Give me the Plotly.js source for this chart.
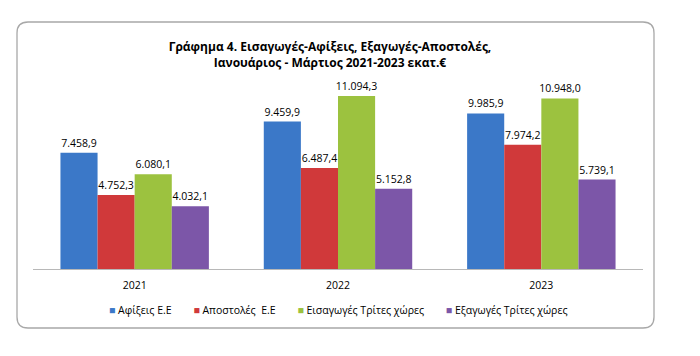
<!DOCTYPE html>
<html><head><meta charset="utf-8">
<script src="https://cdn.plot.ly/plotly-3.0.1.min.js"></script>
<style>html,body{margin:0;padding:0;background:#fff}#chart{width:700px;height:356px}</style>
</head><body><div id="chart"></div>
<script>
const years = ['2021', '2022', '2023'];
const seriesNames = ['Αφίξεις Ε.Ε', 'Αποστολές  Ε.Ε', 'Εισαγωγές Τρίτες χώρες', 'Εξαγωγές Τρίτες χώρες'];
const afixeis = [7458.9, 9459.9, 9985.9];
const apostoles = [4752.3, 6487.4, 7974.2];
const eisagoges = [6080.1, 11094.3, 10948.0];
const exagoges = [4032.1, 5152.8, 5739.1];
const colors = ['#3b78c8', '#d0393a', '#9cc23f', '#7c56a8'];

const values = [afixeis, apostoles, eisagoges, exagoges];
const FONT = 'Open Sans, Liberation Sans, sans-serif';

const traces = values.map((v, i) => ({
  type: 'bar', x: years, y: v, name: seriesNames[i],
  marker: {color: colors[i]},
  texttemplate: '%{y:,.1f}', textposition: 'outside', cliponaxis: false,
  constraintext: 'none',
  textfont: {family: FONT, size: 10.5, color: '#000'},
  hoverinfo: 'none', showlegend: false
}));

// plot area in pixels
const L = 33, R = 643, T = 82, B = 269, W = 700, H = 356;
const px = x => (x - L) / (R - L);
const py = y => (B - y) / (B - T);
function roundRect(x0, y0, x1, y1, r) {
  return `M ${px(x0 + r)} ${py(y0)} L ${px(x1 - r)} ${py(y0)} Q ${px(x1)} ${py(y0)} ${px(x1)} ${py(y0 + r)} ` +
    `L ${px(x1)} ${py(y1 - r)} Q ${px(x1)} ${py(y1)} ${px(x1 - r)} ${py(y1)} ` +
    `L ${px(x0 + r)} ${py(y1)} Q ${px(x0)} ${py(y1)} ${px(x0)} ${py(y1 - r)} ` +
    `L ${px(x0)} ${py(y0 + r)} Q ${px(x0)} ${py(y0)} ${px(x0 + r)} ${py(y0)} Z`;
}

// legend built from the series names and colours
const NB = '\u00a0';
const legendText = seriesNames.map((n, i) =>
  `<span style="color:${colors[i]}">■</span>${NB}${n.replace(/ /g, NB)}`).join(NB.repeat(8));

const layout = {
  width: W, height: H,
  margin: {l: L, r: W - R, t: T, b: H - B},
  paper_bgcolor: '#fff', plot_bgcolor: 'rgba(0,0,0,0)',
  separators: ',.',
  barmode: 'group', bargap: 0.27, bargroupgap: 0,
  font: {family: FONT, size: 11, color: '#000'},
  title: {
    text: '<b>Γράφημα 4. Εισαγωγές-Αφίξεις, Εξαγωγές-Αποστολές,<br>Ιανουάριος - Μάρτιος 2021-2023 εκατ.€</b>',
    font: {family: FONT, size: 12, color: '#000'},
    x: 330 / W, xanchor: 'center', y: 1 - 51 / H, yanchor: 'middle', xref: 'container', yref: 'container'
  },
  xaxis: {
    showline: true, linecolor: '#b8b8b8', linewidth: 1, ticks: 'outside', ticklen: 6,
    tickcolor: 'rgba(0,0,0,0)', showgrid: false,
    tickfont: {family: FONT, size: 10.5, color: '#000'}, fixedrange: true
  },
  yaxis: {range: [0, 12000], visible: false, showgrid: false, zeroline: false, fixedrange: true},
  showlegend: false,
  annotations: [{
    xref: 'paper', yref: 'paper', x: px(338), y: py(310), xanchor: 'center', yanchor: 'middle',
    showarrow: false, text: legendText, font: {family: FONT, size: 10.5, color: '#000'}
  }],
  shapes: [{
    type: 'path', xref: 'paper', yref: 'paper', layer: 'below',
    path: roundRect(17, 22, 654, 328, 11),
    line: {color: '#a8a8a8', width: 1.3}, fillcolor: 'rgba(0,0,0,0)'
  }]
};

Plotly.newPlot('chart', traces, layout, {displayModeBar: false, staticPlot: true});
</script></body></html>
